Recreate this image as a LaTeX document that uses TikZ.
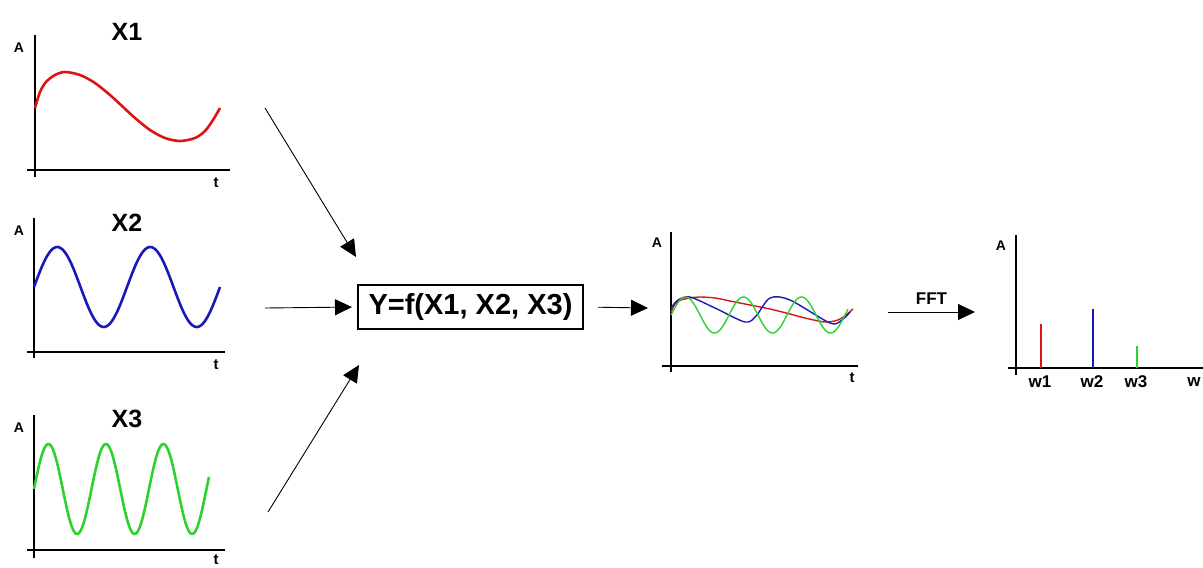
\documentclass[tikz,border=0pt]{standalone}
\usepackage{fontspec}
\setmainfont{Liberation Sans}
\usepackage{tikz}
\usetikzlibrary{arrows.meta, positioning, calc}
\definecolor{SigRed}{RGB}{220,20,20}
\definecolor{SigBlue}{RGB}{25,25,185}
\definecolor{SigGreen}{RGB}{45,210,45}

\begin{document}
\begin{tikzpicture}[x=1pt, y=-1pt,
    axis/.style={line width=1.3pt, black},
    wave/.style={line width=2.6pt, line join=round},
    mixwave/.style={line width=1.4pt, line join=round},
    flow/.style={line width=0.9pt, -{Triangle[length=17pt,width=16pt]}},
    axlabel/.style={font=\fontsize{14}{14}\selectfont\bfseries},
    title/.style={font=\fontsize{25}{25}\selectfont\bfseries}]
    \useasboundingbox (0,0) rectangle (1203,568);

    % Input signals: axes and labels (y-axis x / top / bottom / x-axis y / x-axis end / title y / t y)
    \foreach \n/\ax/\at/\ab/\xa/\xe/\ty/\tl in {1/35/35/177/170/230/32/183, 2/34/218/358/352/225/223/365, 3/34/415/558/550/225/419/560} {
        \draw[axis] (\ax,\at) -- (\ax,\ab);
        \draw[axis] (27,\xa) -- (\xe,\xa);
        \node[axlabel] (a\n) at (19,\at+13) {A};
        \node[axlabel, font=\fontsize{15}{15}\selectfont\bfseries] (t\n) at (216,\tl) {t};
        \node[title] (x\n) at (127,\ty) {X\n};
    }
    \draw[wave, SigRed] plot[smooth] coordinates {(35,108) (40,92) (46,82) (55,75) (65,72) (80,75) (95,83) (110,95) (122,106) (135,118) (150,130) (165,138) (180,141) (195,138) (205,131) (213,120) (220,108)};
    \draw[wave, SigBlue] plot[domain=34:220, samples=120] (\x,{287-40*sin((\x-34)/93*360)});
    \draw[wave, SigGreen] plot[domain=34:209, samples=140] (\x,{489-45*sin((\x-34)/57.5*360)});

    % Combination box
    \node[draw, line width=2pt, minimum width=225pt, minimum height=44pt, inner sep=0pt,
          font=\fontsize{29}{29}\selectfont\bfseries] (func) at (470.5,307) {Y=f(X1, X2, X3)};

    \coordinate (in1) at (265,108);
    \coordinate (in1tip) at (356,257);
    \coordinate (in2) at (265,308);
    \coordinate (in3) at (268,512);
    \coordinate (in3tip) at (359,365);
    \draw[flow] (in1) -- (in1tip);
    \draw[flow, shorten >=5pt] (in2) -- (func.west);
    \draw[flow] (in3) -- (in3tip);

    % Combined signal
    \coordinate (mixin) at (648,308);
    \draw[flow, shorten <=14pt] (func.east) -- (mixin);
    \draw[axis] (671,232) -- (671,372);
    \draw[axis] (662,366) -- (858,366);
    \node[axlabel] (amix) at (657,243) {A};
    \node[axlabel, font=\fontsize{15}{15}\selectfont\bfseries] (tmix) at (852,378) {t};
    \draw[mixwave, SigRed] plot[smooth] coordinates {(671,312) (675,304) (681,300) (690,298) (700,297) (715,298) (730,301) (750,305) (770,309) (790,314) (805,318) (825,322) (838,320) (846,315) (853,309)};
    \draw[mixwave, SigBlue] plot[smooth] coordinates {(671,308) (678,300) (690,297) (715,308) (745,322) (756,316) (770,298) (790,300) (830,323) (842,320) (850,312)};
    \draw[mixwave, SigGreen] plot[domain=671:848, samples=140] (\x,{315-18*sin((\x-671)/58*360)});

    % FFT step
    \coordinate (fftin) at (888,312);
    \coordinate (fftout) at (975,312);
    \draw[flow] (fftin) -- (fftout) node[midway, above=4pt, font=\fontsize{17}{17}\selectfont\bfseries] (fft) {FFT};

    % Spectrum
    \draw[axis] (1016,235) -- (1016,375);
    \draw[axis] (1008,368) -- (1203,368);
    \node[axlabel] (aspec) at (1001,246) {A};
    \foreach \n/\px/\top/\col in {1/1041/324/SigRed, 2/1093/309/SigBlue, 3/1137/346/SigGreen} {
        \draw[line width=2.6pt, \col] (\px,368) -- (\px,\top);
        \node[font=\fontsize{17}{17}\selectfont\bfseries] (w\n) at (\px-1,382) {w\n};
    }
    \node[font=\fontsize{17}{17}\selectfont\bfseries] (waxis) at (1194,382) {w};
\end{tikzpicture}
\end{document}
